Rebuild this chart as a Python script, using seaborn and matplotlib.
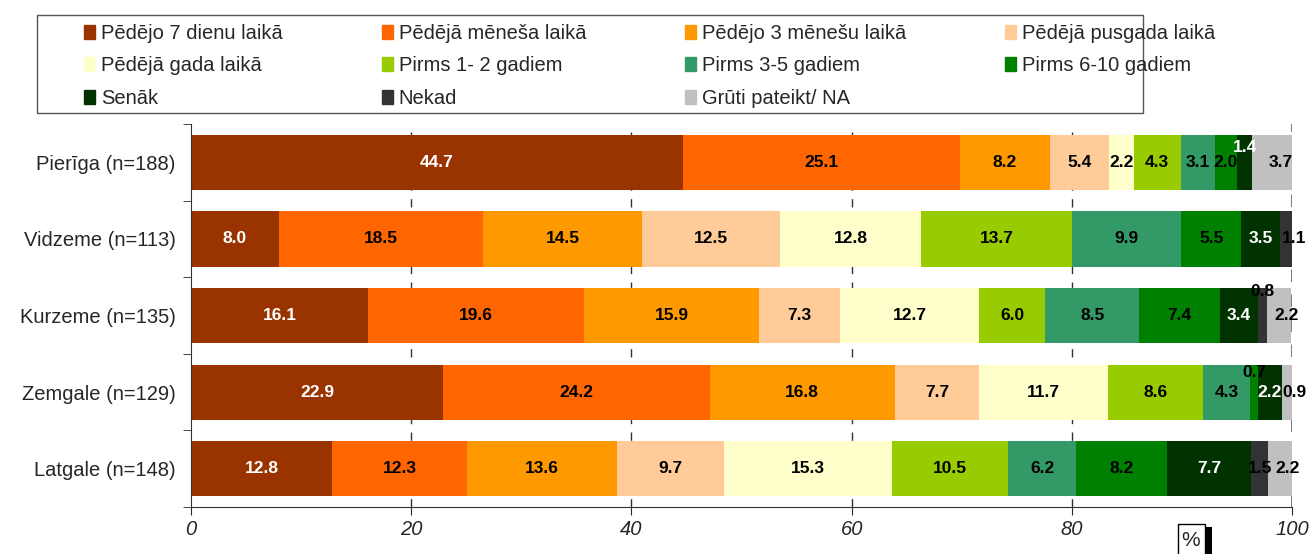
import matplotlib
matplotlib.use('Agg')
import matplotlib.pyplot as plt
import matplotlib.patches as mpatches
import seaborn as sns
import numpy as np

regions = ['Pierīga (n=188)', 'Vidzeme (n=113)', 'Kurzeme (n=135)', 'Zemgale (n=129)', 'Latgale (n=148)']
answers = ['Pēdējo 7 dienu laikā', 'Pēdējā mēneša laikā', 'Pēdējo 3 mēnešu laikā', 'Pēdējā pusgada laikā',
           'Pēdējā gada laikā', 'Pirms 1- 2 gadiem', 'Pirms 3-5 gadiem', 'Pirms 6-10 gadiem',
           'Senāk', 'Nekad', 'Grūti pateikt/ NA']
colors = ['#993300', '#FF6600', '#FF9900', '#FFCC99', '#FFFFCC', '#99CC00',
          '#339966', '#008000', '#003300', '#333333', '#C0C0C0']
text_colors = ['white', 'black', 'black', 'black', 'black', 'black',
               'black', 'black', 'white', 'black', 'black']

pieriga = [44.7, 25.1, 8.2, 5.4, 2.2, 4.3, 3.1, 2.0, 1.4, 0.0, 3.7]
vidzeme = [8.0, 18.5, 14.5, 12.5, 12.8, 13.7, 9.9, 5.5, 3.5, 1.1, 0.0]
kurzeme = [16.1, 19.6, 15.9, 7.3, 12.7, 6.0, 8.5, 7.4, 3.4, 0.8, 2.2]
zemgale = [22.9, 24.2, 16.8, 7.7, 11.7, 8.6, 4.3, 0.7, 2.2, 0.0, 0.9]
latgale = [12.8, 12.3, 13.6, 9.7, 15.3, 10.5, 6.2, 8.2, 7.7, 1.5, 2.2]

values = np.array([pieriga, vidzeme, kurzeme, zemgale, latgale])
cum = values.cumsum(axis=1)

# labels that sit above their (too narrow) segment: (row, col) -> lift
raised = {(0, 8): 0.2, (2, 9): 0.31, (3, 7): 0.25}

sns.set_style('white')
plt.rcParams['font.family'] = ['Liberation Sans', 'DejaVu Sans']

fig = plt.figure(figsize=(13.1, 5.54), dpi=100)
ax = fig.add_axes([0.1458, 0.0848, 0.8405, 0.6912])

# stacked bars: draw cumulative totals from the last answer to the first
for i in reversed(range(len(answers))):
    sns.barplot(x=cum[:, i], y=regions, color=colors[i], width=0.72, orient='h',
                saturation=1, ax=ax, linewidth=0)

for r in range(len(regions)):
    last = max(i for i in range(len(answers)) if values[r, i] > 0)
    for i in range(len(answers)):
        v = values[r, i]
        if v <= 0:
            continue
        x = cum[r, i] - v / 2
        if i == last:
            x += 0.7
        y = r - raised.get((r, i), 0)
        ax.text(x, y, f'{v:.1f}', ha='center', va='center', fontsize=12.5,
                fontweight='bold', color=text_colors[i])

ax.set_xlim(0, 100)
ax.set_ylim(4.5, -0.5)
ax.set_xticks([0, 20, 40, 60, 80, 100])
ax.set_xticklabels(['0', '20', '40', '60', '80', '100'], fontstyle='italic', fontsize=14.5)
ax.tick_params(axis='x', direction='out', length=6, pad=3, bottom=True)
ax.tick_params(axis='y', length=0, labelsize=14.5, pad=11)
ax.set_yticks(np.arange(-0.5, 5, 1), minor=True)
ax.tick_params(axis='y', which='minor', length=6, left=True, direction='out')
ax.set_xlabel('')
ax.set_ylabel('')
for x in [20, 40, 60, 80]:
    ax.axvline(x, color='#333333', linestyle=(0, (6, 6)), linewidth=1, zorder=0)
ax.axvline(100, color='#808080', linestyle=(0, (6, 6)), linewidth=1.5, zorder=0)

sns.despine(ax=ax, top=True, right=True)
ax.spines['left'].set_color('#333333')
ax.spines['bottom'].set_color('#333333')

# legend frame drawn separately so the inner padding matches
fig.patches.append(mpatches.Rectangle((37 / 1310, 1 - 113 / 554), 1106 / 1310, 98 / 554,
                                      transform=fig.transFigure, facecolor='white',
                                      edgecolor='#555555', linewidth=1, zorder=0))
handles = [mpatches.Patch(color=c, label=a) for a, c in zip(answers, colors)]
order = [0, 4, 8, 1, 5, 9, 2, 6, 10, 3, 7]
fig.legend([handles[k] for k in order], [answers[k] for k in order],
           ncol=4, loc='upper left', bbox_to_anchor=(84 / 1310, 1 - 24 / 554),
           fontsize=14.5, frameon=False, borderpad=0, borderaxespad=0,
           handlelength=0.55, handleheight=0.7, handletextpad=0.3,
           columnspacing=4.9, labelspacing=0.67)

# "%" box with a black shadow on its right
fig.patches.append(mpatches.Rectangle((1205 / 1310, 0), 7 / 1310, 27 / 554,
                                      transform=fig.transFigure, facecolor='black',
                                      edgecolor='none'))
fig.patches.append(mpatches.Rectangle((1178 / 1310, -5 / 554), 27 / 1310, 35 / 554,
                                      transform=fig.transFigure, facecolor='white',
                                      edgecolor='black', linewidth=1))
fig.text(1191 / 1310, 1 - 541 / 554, '%', fontsize=15, ha='center', va='center')

fig.savefig('out.png', dpi=100)
